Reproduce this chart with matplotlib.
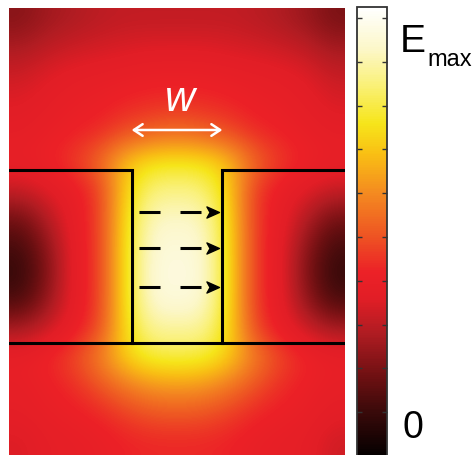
import numpy as np
import matplotlib
matplotlib.use('Agg')
import matplotlib.pyplot as plt
from matplotlib.colors import LinearSegmentedColormap
from matplotlib.path import Path

# field magnitude |E|/Emax, coarse grid (rows top->bottom)
x_centers = [21, 47, 73, 99, 125, 151, 176.5, 202, 228, 254, 280, 306, 332]
y_centers = [22, 50, 78, 106, 134, 162, 190, 218, 246, 274, 302, 330, 358, 386, 414, 442]
field = [
    [0.22, 0.26, 0.28, 0.30, 0.31, 0.31, 0.31, 0.31, 0.31, 0.30, 0.28, 0.25, 0.20],
    [0.28, 0.31, 0.33, 0.34, 0.35, 0.36, 0.36, 0.36, 0.35, 0.34, 0.33, 0.31, 0.27],
    [0.33, 0.36, 0.38, 0.39, 0.40, 0.41, 0.41, 0.41, 0.40, 0.39, 0.38, 0.36, 0.32],
    [0.36, 0.38, 0.40, 0.41, 0.43, 0.44, 0.45, 0.44, 0.43, 0.41, 0.40, 0.38, 0.35],
    [0.38, 0.40, 0.42, 0.44, 0.49, 0.53, 0.55, 0.53, 0.49, 0.44, 0.42, 0.40, 0.38],
    [0.40, 0.42, 0.46, 0.54, 0.69, 0.75, 0.76, 0.75, 0.69, 0.54, 0.46, 0.42, 0.40],
    [0.32, 0.36, 0.40, 0.46, 0.72, 0.85, 0.86, 0.85, 0.72, 0.46, 0.40, 0.36, 0.32],
    [0.19, 0.29, 0.39, 0.46, 0.74, 0.92, 0.93, 0.92, 0.74, 0.46, 0.39, 0.29, 0.19],
    [0.12, 0.23, 0.38, 0.46, 0.75, 0.95, 0.96, 0.95, 0.75, 0.46, 0.38, 0.23, 0.12],
    [0.09, 0.21, 0.38, 0.46, 0.75, 0.96, 0.97, 0.96, 0.75, 0.46, 0.38, 0.21, 0.09],
    [0.13, 0.24, 0.38, 0.46, 0.75, 0.95, 0.96, 0.95, 0.75, 0.46, 0.38, 0.24, 0.13],
    [0.27, 0.33, 0.40, 0.48, 0.74, 0.88, 0.88, 0.88, 0.74, 0.48, 0.40, 0.33, 0.27],
    [0.40, 0.43, 0.48, 0.58, 0.72, 0.79, 0.80, 0.79, 0.72, 0.58, 0.48, 0.43, 0.40],
    [0.39, 0.41, 0.44, 0.50, 0.57, 0.62, 0.63, 0.62, 0.57, 0.50, 0.44, 0.41, 0.39],
    [0.38, 0.40, 0.41, 0.43, 0.47, 0.50, 0.51, 0.50, 0.47, 0.43, 0.41, 0.40, 0.37],
    [0.35, 0.38, 0.39, 0.40, 0.42, 0.43, 0.43, 0.43, 0.42, 0.40, 0.39, 0.38, 0.33],
]

# slot geometry (same units as the grid)
slot_left, slot_right = 131, 222
slot_top, slot_bottom = 170, 343
arrow_rows = [212, 248, 287]
cbar_ticks = [0.1, 0.2, 0.3, 0.4, 0.5, 0.6, 0.7, 0.8, 0.9, 1.0]

vmax = 1.025
stops = [(0.0, '#050000'), (0.1, '#3a0a0a'), (0.18, '#6e1012'), (0.28, '#b01c22'),
         (0.36, '#e21e26'), (0.42, '#ec2127'), (0.5, '#ee5323'), (0.6, '#f48a20'),
         (0.69, '#f9bf14'), (0.76, '#f6e51a'), (0.85, '#faf17a'), (0.93, '#fcf7c8'),
         (vmax, '#ffffff')]
cmap = LinearSegmentedColormap.from_list('hotlight', [(v / vmax, c) for v, c in stops])

fig = plt.figure(figsize=(4.75, 4.55), dpi=100)
ax = fig.add_axes([9/475, 0, 336/475, 447/455])
Z = np.array(field)
x0, x1 = 8, 345
y0, y1 = 8, 455
im = ax.imshow(Z, cmap=cmap, vmin=0, vmax=vmax, interpolation='bicubic',
               extent=[x0, x1, y1, y0], aspect='auto')
ax.set_xlim(x0, x1)
ax.set_ylim(y1, y0)
ax.axis('off')

# slot outline
lw = 2.2
ax.plot([x0, slot_left, slot_left], [slot_top, slot_top, slot_bottom], color='black', lw=lw,
        solid_joinstyle='miter')
ax.plot([slot_right, slot_right, x1], [slot_bottom, slot_top, slot_top], color='black', lw=lw,
        solid_joinstyle='miter')
ax.plot([x0, x1], [slot_bottom, slot_bottom], color='black', lw=lw)

# dashed field arrows
head = Path([(1, 0), (-0.8, 0.8), (-0.35, 0), (-0.8, -0.8), (1, 0)],
            [Path.MOVETO, Path.LINETO, Path.LINETO, Path.LINETO, Path.CLOSEPOLY])
for yy in arrow_rows:
    ax.plot([138, 159], [yy, yy], color='black', lw=lw, solid_capstyle='butt')
    ax.plot([180, 201], [yy, yy], color='black', lw=lw, solid_capstyle='butt')
    ax.plot([212], [yy], marker=head, markersize=10, color='black', lw=0)

# width marker
ax.annotate('', xy=(slot_left, 130), xytext=(slot_right, 130),
            arrowprops=dict(arrowstyle='<->,head_length=0.45,head_width=0.3',
                            color='white', lw=1.8, mutation_scale=14, shrinkA=0, shrinkB=0))
ax.text((slot_left + slot_right) / 2 + 3, 100, 'w', color='white', fontsize=30,
        style='italic', family='Liberation Sans', ha='center', va='center')

# colorbar
cax = fig.add_axes([357/475, -0.002, 30/475, 448/455 + 0.002])
cb = fig.colorbar(im, cax=cax)
cb.set_ticks(cbar_ticks)
cax.tick_params(direction='in', left=True, right=True, length=3.5, width=1,
                color='#333333', labelleft=False, labelright=False)
cb.outline.set_edgecolor('#333333')
cb.outline.set_linewidth(1.3)

fig.text(400/475, 1 - 52/455, 'E', fontsize=28, family='Liberation Sans', va='baseline')
fig.text(427/475, 1 - 66/455, 'max', fontsize=17, family='Liberation Sans', va='baseline')
fig.text(402/475, 1 - 438/455, '0', fontsize=27, family='Liberation Sans', va='baseline')

fig.savefig('out.png', dpi=100)
